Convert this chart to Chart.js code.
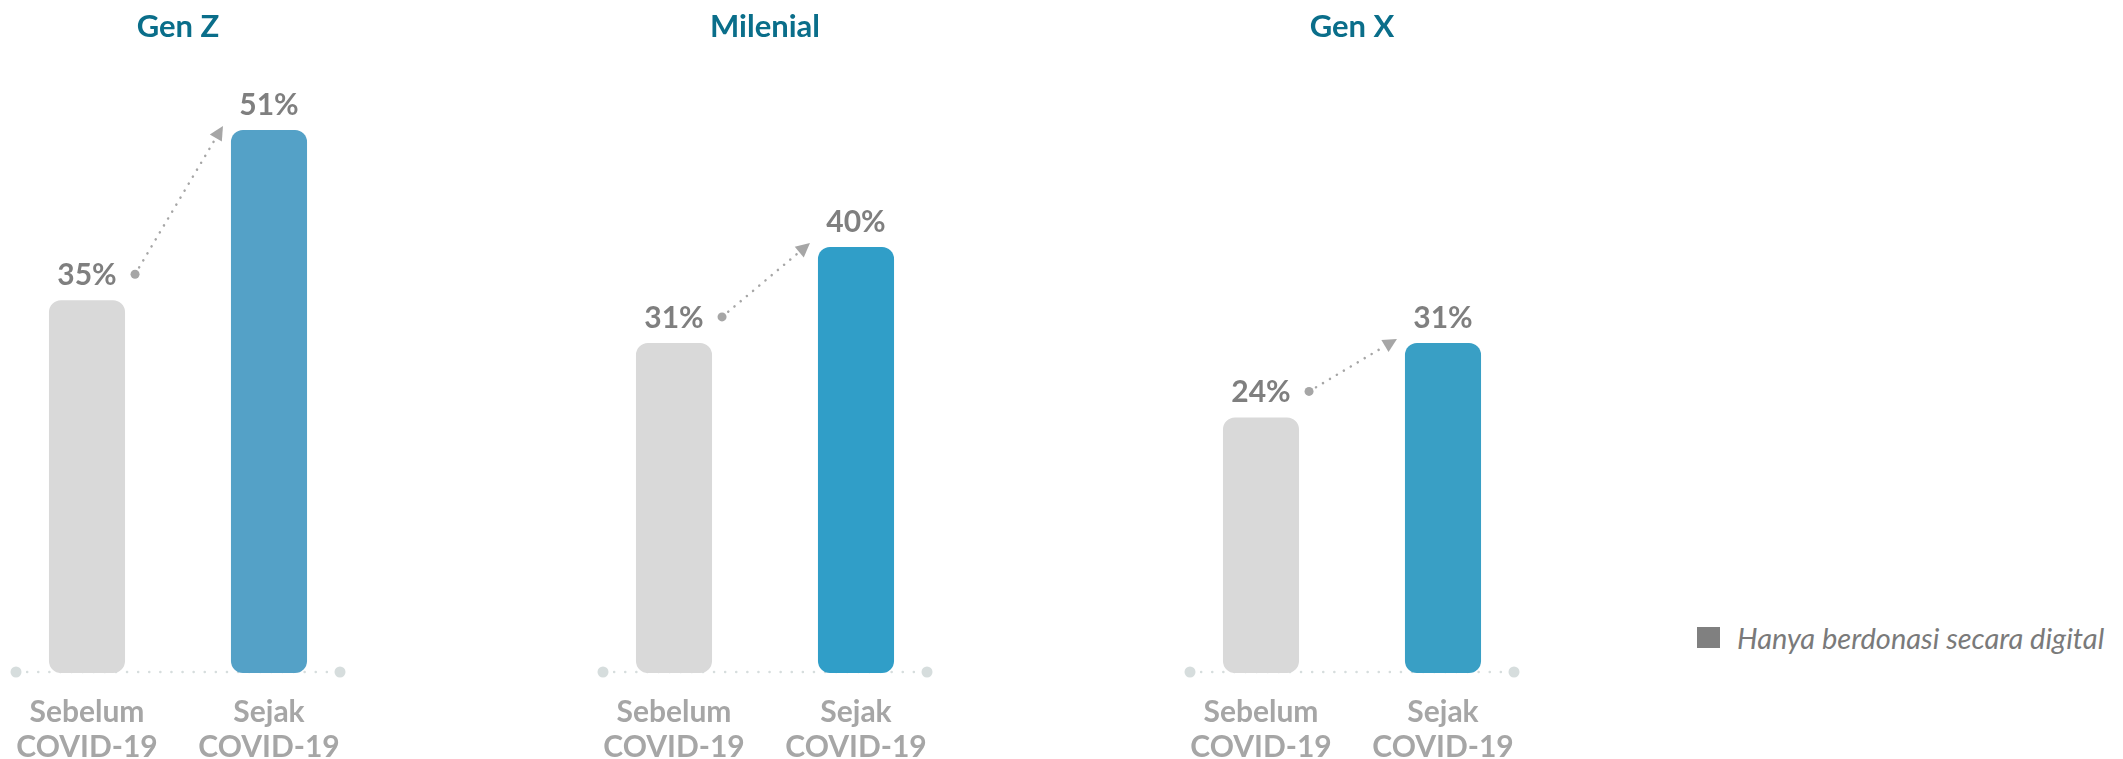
<!DOCTYPE html>
<html lang="id">
<head>
    <meta charset="UTF-8">
    <title>Donasi digital per generasi</title>
    <script src="https://cdn.jsdelivr.net/npm/chart.js"></script>
    <style>
        body {
            margin: 0;
            width: 2123px;
            height: 759px;
            overflow: hidden;
            background: #fff;
            font-family: 'Lato', sans-serif;
            position: relative;
        }

        .panel {
            position: absolute;
            top: 0;
            width: 364px;
            height: 779px;
        }

        .legend {
            position: absolute;
            left: 1697px;
            top: 620px;
            display: flex;
            align-items: center;
            gap: 17px;
            font-style: italic;
            font-size: 29px;
            color: #7a7a7a;
            white-space: nowrap;
        }

        .legend span.box {
            width: 23px;
            height: 21px;
            background: #808080;
            display: inline-block;
        }
    </style>
</head>
<body>
    <div class="panel" style="left:-4px"><canvas id="c0" width="364" height="779"></canvas></div>
    <div class="panel" style="left:583px"><canvas id="c1" width="364" height="779"></canvas></div>
    <div class="panel" style="left:1170px"><canvas id="c2" width="364" height="779"></canvas></div>
    <div class="legend"><span class="box"></span><span>Hanya berdonasi secara digital</span></div>

    <script>
        // data
        const generations = ['Gen Z', 'Milenial', 'Gen X'];
        const periods = [['Sebelum', 'COVID-19'], ['Sejak', 'COVID-19']];
        const beforeCovid = [35, 31, 24];
        const sinceCovid = [51, 40, 31];

        const grayBar = '#d9d9d9';
        const blueBars = ['#54a1c7', '#309ec8', '#399fc5'];
        const yMax = 56.7;

        // dotted baseline with end dots, behind the bars
        const baselinePlugin = {
            id: 'baseline',
            beforeDatasetsDraw(chart) {
                const ctx = chart.ctx;
                const x = chart.scales.x;
                const y0 = chart.scales.y.getPixelForValue(0) - 1;
                const left = x.getPixelForValue(0) - 71;
                const right = x.getPixelForValue(1) + 71;
                ctx.save();
                ctx.strokeStyle = '#d6dddd';
                ctx.lineWidth = 2.5;
                ctx.lineCap = 'round';
                ctx.setLineDash([0.1, 11]);
                ctx.beginPath();
                ctx.moveTo(left, y0);
                ctx.lineTo(right, y0);
                ctx.stroke();
                ctx.setLineDash([]);
                ctx.fillStyle = '#d6dddd';
                [left, right].forEach(px => {
                    ctx.beginPath();
                    ctx.arc(px, y0, 5.5, 0, Math.PI * 2);
                    ctx.fill();
                });
                ctx.restore();
            }
        };

        // value labels and the dotted arrow between the two bars
        const annotatePlugin = {
            id: 'annotate',
            afterDatasetsDraw(chart) {
                const ctx = chart.ctx;
                const meta = chart.getDatasetMeta(0);
                const values = chart.data.datasets[0].data;
                ctx.save();
                ctx.font = 'bold 30px Lato';
                ctx.fillStyle = '#7f7f7f';
                ctx.textAlign = 'center';
                ctx.textBaseline = 'middle';
                meta.data.forEach((bar, i) => {
                    ctx.fillText(values[i] + '%', bar.x, bar.y - 25);
                });

                const a = meta.data[0], b = meta.data[1];
                const sx = a.x + a.width / 2 + 10, sy = a.y - 26;
                const ex = b.x - b.width / 2 - 8, ey = b.y - 4;
                const ang = Math.atan2(ey - sy, ex - sx);
                const head = 14;
                const lx = ex - Math.cos(ang) * head, ly = ey - Math.sin(ang) * head;

                ctx.strokeStyle = '#a6a6a6';
                ctx.fillStyle = '#a6a6a6';
                ctx.lineWidth = 2.5;
                ctx.lineCap = 'round';
                ctx.setLineDash([0.1, 8]);
                ctx.beginPath();
                ctx.moveTo(sx, sy);
                ctx.lineTo(lx, ly);
                ctx.stroke();
                ctx.setLineDash([]);

                ctx.beginPath();
                ctx.arc(sx, sy, 4.5, 0, Math.PI * 2);
                ctx.fill();

                ctx.beginPath();
                ctx.moveTo(ex, ey);
                ctx.lineTo(lx + Math.sin(ang) * 7, ly - Math.cos(ang) * 7);
                ctx.lineTo(lx - Math.sin(ang) * 7, ly + Math.cos(ang) * 7);
                ctx.closePath();
                ctx.fill();
                ctx.restore();
            }
        };

        generations.forEach((gen, i) => {
            new Chart(document.getElementById('c' + i), {
                type: 'bar',
                data: {
                    labels: periods,
                    datasets: [{
                        data: [beforeCovid[i], sinceCovid[i]],
                        backgroundColor: [grayBar, blueBars[i]],
                        borderRadius: 12,
                        borderSkipped: false,
                        barPercentage: 0.418,
                        categoryPercentage: 1
                    }]
                },
                options: {
                    responsive: false,
                    animation: false,
                    layout: { padding: 0 },
                    plugins: {
                        legend: { display: false },
                        tooltip: { enabled: false },
                        title: {
                            display: true,
                            text: gen,
                            color: '#0a6e8a',
                            font: { family: 'Lato', size: 31, weight: 'bold', lineHeight: 1.2 },
                            padding: { top: 8, bottom: 24 }
                        }
                    },
                    scales: {
                        x: {
                            grid: { display: false },
                            border: { display: false },
                            ticks: {
                                color: '#a6a6a6',
                                padding: 14,
                                font: { family: 'Lato', size: 30, weight: 'bold', lineHeight: 1.1667 }
                            }
                        },
                        y: {
                            display: false,
                            min: 0,
                            max: yMax
                        }
                    }
                },
                plugins: [baselinePlugin, annotatePlugin]
            });
        });
    </script>
</body>
</html>
